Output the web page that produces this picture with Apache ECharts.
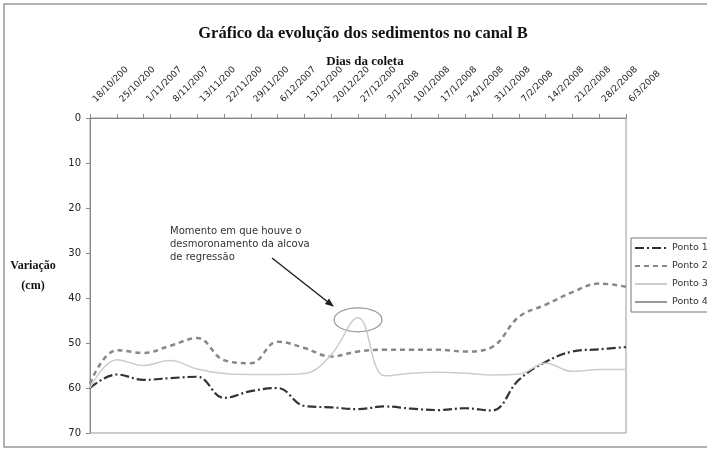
<!DOCTYPE html>
<html>
<head>
<meta charset="utf-8">
<script src="https://cdn.jsdelivr.net/npm/echarts@6/dist/echarts.min.js"></script>
<style>
    html, body {margin: 0; padding: 0; background: #fff;}
    #chart {width: 707px; height: 452px;}
</style>
</head>
<body>
<div id="chart"></div>
<script>
const dates = ['18/10/2007', '25/10/2007', '1/11/2007', '8/11/2007', '13/11/2007', '22/11/2007', '29/11/2007',
    '6/12/2007', '13/12/2007', '20/12/2207', '27/12/2007', '3/1/2008', '10/1/2008', '17/1/2008', '24/1/2008',
    '31/1/2008', '7/2/2008', '14/2/2008', '21/2/2008', '28/2/2008', '6/3/2008'];
const ponto1 = [60, 57, 58.2, 57.8, 57.5, 62.2, 60.7, 60, 64, 64.3, 64.7, 64.1, 64.6, 64.9, 64.5, 65, 58.2, 54.2, 51.9, 51.4, 50.9];
const ponto2 = [59, 51.6, 52.2, 50.6, 48.9, 53.8, 54.5, 49.7, 51.1, 53, 51.9, 51.5, 51.5, 51.5, 51.9, 50.9, 44.2, 41.5, 38.7, 36.8, 37.5];
const ponto3 = [60, 53.7, 55, 53.9, 55.8, 56.8, 57, 57, 56.8, 52.6, 44.4, 57.3, 56.7, 56.5, 56.7, 57.1, 56.9, 54.5, 56.3, 55.9, 55.9];
const ponto4 = [];
const yTicks = {min: 0, max: 70, interval: 10};

const chart = echarts.init(document.getElementById('chart'));

const lineSeries = (name, data, color, width, type) => ({
    type: 'line',
    name: name,
    data: data,
    smooth: 0.4,
    symbol: 'none',
    lineStyle: {color: color, width: width, type: type},
    itemStyle: {color: color}
});

const option = {
    animation: false,
    backgroundColor: '#fff',
    title: [{
        text: 'Gráfico da evolução dos sedimentos no canal B',
        left: 358, top: 20, textAlign: 'center',
        textStyle: {fontFamily: 'Liberation Serif', fontWeight: 'bold', fontSize: 16.5, color: '#111'}
    }, {
        text: 'Dias da coleta',
        left: 360, top: 50, textAlign: 'center',
        textStyle: {fontFamily: 'Liberation Serif', fontWeight: 'bold', fontSize: 13, color: '#111'}
    }],
    grid: {left: 90, right: 81, top: 118, bottom: 19, show: true, borderColor: '#999', borderWidth: 1},
    xAxis: {
        type: 'category',
        position: 'top',
        data: dates,
        boundaryGap: false,
        axisLine: {onZero: false, lineStyle: {color: '#888'}},
        axisTick: {length: 4, lineStyle: {color: '#888'}},
        axisLabel: {
            rotate: -45, interval: 0, margin: 13, padding: [0, 0, 0, 6],
            width: 50, overflow: 'truncate', ellipsis: '',
            fontFamily: 'DejaVu Sans', fontSize: 9, color: '#222'
        },
        splitLine: {show: false}
    },
    yAxis: {
        type: 'value',
        inverse: true,
        min: yTicks.min, max: yTicks.max, interval: yTicks.interval,
        axisLine: {show: true, lineStyle: {color: '#888'}},
        axisTick: {show: true, length: 4, lineStyle: {color: '#888'}},
        axisLabel: {margin: 9, fontFamily: 'DejaVu Sans', fontSize: 10, color: '#222'},
        splitLine: {show: false}
    },
    legend: {
        orient: 'vertical',
        left: 631, top: 238,
        padding: [5, 4, 5, 3],
        itemGap: 8,
        itemWidth: 32, itemHeight: 10,
        borderColor: '#777', borderWidth: 1,
        itemStyle: {opacity: 0},
        textStyle: {fontFamily: 'DejaVu Sans', fontSize: 9.5, color: '#333'},
        data: ['Ponto 1', 'Ponto 2', 'Ponto 3', 'Ponto 4']
    },
    graphic: [{
        type: 'rect',
        shape: {x: 4, y: 4, width: 740, height: 443},
        style: {fill: 'none', stroke: '#999', lineWidth: 1.5},
        silent: true
    }, {
        type: 'text',
        x: 33, y: 256,
        style: {
            text: 'Variação\n(cm)',
            font: 'bold 12px "Liberation Serif"',
            fill: '#111',
            align: 'center',
            lineHeight: 20
        }
    }, {
        type: 'text',
        left: 170, top: 225,
        style: {
            text: 'Momento em que houve o\ndesmoronamento da alcova\nde regressão',
            font: '10px "DejaVu Sans"',
            fill: '#333',
            lineHeight: 13
        }
    }],
    series: [
        lineSeries('Ponto 1', ponto1, '#333', 2.2, [9, 3, 2, 3]),
        lineSeries('Ponto 2', ponto2, '#888', 2.5, [5, 4]),
        lineSeries('Ponto 3', ponto3, '#ccc', 1.5, 'solid'),
        lineSeries('Ponto 4', ponto4, '#999', 1, 'solid')
    ]
};

chart.setOption(option);

// ellipse and arrow around the peak of Ponto 3
const peakIdx = ponto3.indexOf(Math.min(...ponto3));
const peak = chart.convertToPixel({gridIndex: 0}, [peakIdx, ponto3[peakIdx]]);
const cx = peak[0], cy = peak[1] + 2;
const start = [272, 258];
const end = [cx - 24, cy - 13];
const ang = Math.atan2(end[1] - start[1], end[0] - start[0]);
const hl = 9, hw = 3.5;
const base = [end[0] - hl * Math.cos(ang), end[1] - hl * Math.sin(ang)];
const head = [
    end,
    [base[0] + hw * Math.sin(ang), base[1] - hw * Math.cos(ang)],
    [base[0] - hw * Math.sin(ang), base[1] + hw * Math.cos(ang)]
];

chart.setOption({
    graphic: option.graphic.concat([{
        type: 'ellipse',
        shape: {cx: cx, cy: cy, rx: 24, ry: 12},
        style: {fill: 'none', stroke: '#999', lineWidth: 1.2},
        silent: true
    }, {
        type: 'line',
        shape: {x1: start[0], y1: start[1], x2: base[0], y2: base[1]},
        style: {stroke: '#222', lineWidth: 1.5},
        silent: true
    }, {
        type: 'polygon',
        shape: {points: head},
        style: {fill: '#222'},
        silent: true
    }])
});
</script>
</body>
</html>
